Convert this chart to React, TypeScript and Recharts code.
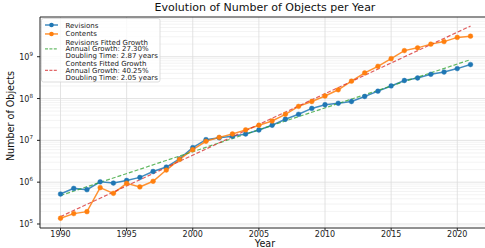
import React from 'react';
import { LineChart, Line, XAxis, YAxis, ReferenceLine } from 'recharts';

const years = [1990, 1991, 1992, 1993, 1994, 1995, 1996, 1997, 1998, 1999, 2000, 2001, 2002, 2003, 2004, 2005,
  2006, 2007, 2008, 2009, 2010, 2011, 2012, 2013, 2014, 2015, 2016, 2017, 2018, 2019, 2020, 2021];

const revisions = [5.2e5, 7.1e5, 6.6e5, 1.02e6, 9.5e5, 1.1e6, 1.3e6, 1.8e6, 2.3e6, 3.6e6, 6.7e6, 1.04e7, 1.15e7, 1.26e7, 1.42e7, 1.77e7,
  2.3e7, 3.2e7, 4.2e7, 5.8e7, 7.1e7, 7.7e7, 8.5e7, 1.12e8, 1.5e8, 2.0e8, 2.7e8, 3.1e8, 3.8e8, 4.3e8, 5.2e8, 6.5e8];

const contents = [1.37e5, 1.77e5, 1.97e5, 7.4e5, 5.4e5, 9.4e5, 7.7e5, 1.05e6, 1.95e6, 3.5e6, 6.0e6, 9.5e6, 1.18e7, 1.42e7, 1.78e7, 2.3e7,
  2.9e7, 4.2e7, 6.5e7, 8.5e7, 1.15e8, 1.62e8, 2.6e8, 4.1e8, 5.9e8, 9.0e8, 1.4e9, 1.63e9, 2.0e9, 2.3e9, 2.9e9, 3.1e9];

// fitted exponential growth, end points only (straight on log axis)
const fitYears = [1990, 2021];
const revisionsFit = [4.8e5, 8.5e8];
const contentsFit = [1.5e5, 5.4e9];

const xTicks = [1990, 1995, 2000, 2005, 2010, 2015, 2020];
const yTicks = [1e5, 1e6, 1e7, 1e8, 1e9];
const minorTicks = [9e4,
  2e5, 3e5, 4e5, 5e5, 6e5, 7e5, 8e5, 9e5,
  2e6, 3e6, 4e6, 5e6, 6e6, 7e6, 8e6, 9e6,
  2e7, 3e7, 4e7, 5e7, 6e7, 7e7, 8e7, 9e7,
  2e8, 3e8, 4e8, 5e8, 6e8, 7e8, 8e8, 9e8,
  2e9, 3e9, 4e9, 5e9, 6e9, 7e9, 8e9];

const legendItems = [
  { lines: ['Revisions'], color: '#1f77b4', dashed: false },
  { lines: ['Contents'], color: '#ff7f0e', dashed: false },
  { lines: ['Revisions Fitted Growth', 'Annual Growth: 27.30%', 'Doubling Time: 2.87 years'], color: '#2ca02c', dashed: true },
  { lines: ['Contents Fitted Growth', 'Annual Growth: 40.25%', 'Doubling Time: 2.05 years'], color: '#d62728', dashed: true },
];

const data = years.map((y, i) => ({ year: y, revisions: revisions[i], contents: contents[i] }));
const fitData = fitYears.map((y, i) => ({ year: y, revFit: revisionsFit[i], conFit: contentsFit[i] }));

const FONT = '"DejaVu Sans", sans-serif';
const Y_MIN = Math.pow(10, 4.904);
const Y_MAX = Math.pow(10, 9.95);

const YTick = (props: any) => {
  const { x, y, payload } = props;
  const exp = Math.round(Math.log10(payload.value));
  return (
    <text x={x} y={y + 3} textAnchor="end" fill="#222" fontFamily={FONT}>
      <tspan fontSize={8}>10</tspan>
      <tspan fontSize={5.6} dy={-4}>{exp}</tspan>
    </text>
  );
};

// legend drawn as an overlay svg, rows laid out top to bottom
const LegendBox = () => {
  const LINE = 6.65;
  const rows: { y: number; item: typeof legendItems[number] }[] = [];
  let y = 25;
  legendItems.forEach((it, i) => {
    rows.push({ y, item: it });
    y += it.lines.length * LINE + (i === 0 ? 2.3 : 1.6);
  });
  return (
    <svg width={485} height={248} style={{ position: 'absolute', left: 0, top: 0, pointerEvents: 'none' }}>
      <rect x={41.5} y={18.5} width={118.5} height={63.5} rx={2} fill="#fff" fillOpacity={0.8} stroke="#d4d4d4" strokeWidth={0.8} />
      {rows.map(({ y: ry, item }, i) => {
        const mid = ry + ((item.lines.length - 1) * LINE) / 2;
        return (
          <g key={i}>
            <line x1={45} x2={58} y1={mid} y2={mid} stroke={item.color} strokeWidth={1.4}
              strokeDasharray={item.dashed ? '3 1.4' : undefined} strokeOpacity={item.dashed ? 0.7 : 0.9} />
            {!item.dashed && <circle cx={51.5} cy={mid} r={2.3} fill={item.color} />}
            <text x={65.5} y={ry + 2.5} fontFamily={FONT} fontSize={7} fill="#222">
              {item.lines.map((l, j) => (
                <tspan key={j} x={65.5} dy={j === 0 ? 0 : LINE}>{l}</tspan>
              ))}
            </text>
          </g>
        );
      })}
    </svg>
  );
};

export default function App() {
  return (
    <div style={{ position: 'absolute', left: 0, top: 0, width: 485, height: 248, overflow: 'hidden', background: '#fff' }}>
      <div style={{ position: 'absolute', left: 0, width: 530, top: 1, textAlign: 'center', fontFamily: FONT, fontSize: 11, color: '#111' }}>
        Evolution of Number of Objects per Year
      </div>
      <div style={{ position: 'absolute', left: 0, width: 530, top: 238.5, textAlign: 'center', fontFamily: FONT, fontSize: 9.6, lineHeight: '10px', color: '#111' }}>
        Year
      </div>
      <div style={{
        position: 'absolute', left: 10, top: 116, transform: 'translate(-50%, -50%) rotate(-90deg)', whiteSpace: 'nowrap',
        fontFamily: FONT, fontSize: 9.6, color: '#111',
      }}>
        Number of Objects
      </div>
      <LineChart width={500} height={248} data={data} margin={{ top: 17, right: 9, bottom: 0, left: 0 }}
        style={{ position: 'absolute', left: 0, top: 0 }}>
        <XAxis dataKey="year" type="number" domain={[1988.45, 2022.55]} ticks={xTicks} allowDataOverflow
          height={20} tickSize={3} tickMargin={0} stroke="#222"
          tick={{ fontSize: 8, fill: '#222', fontFamily: FONT }} />
        <YAxis scale="log" domain={[Y_MIN, Y_MAX]} ticks={yTicks} allowDataOverflow width={40}
          tickSize={3} tickMargin={4} stroke="#222" tick={<YTick />} />
        {minorTicks.map(v => (
          <ReferenceLine key={`m${v}`} y={v} stroke="#ebebeb" strokeWidth={0.6} />
        ))}
        {yTicks.map(v => (
          <ReferenceLine key={`y${v}`} y={v} stroke="#dcdcdc" strokeWidth={0.8} />
        ))}
        {xTicks.map(v => (
          <ReferenceLine key={`x${v}`} x={v} stroke="#dcdcdc" strokeWidth={0.8} />
        ))}
        <ReferenceLine y={Y_MAX} stroke="#222" strokeWidth={1} />
        <Line dataKey="revisions" stroke="#1f77b4" strokeWidth={1.5} strokeOpacity={0.85}
          dot={{ r: 2.4, fill: '#1f77b4', stroke: '#1f77b4', strokeWidth: 0.5 }} isAnimationActive={false} />
        <Line dataKey="contents" stroke="#ff7f0e" strokeWidth={1.5} strokeOpacity={0.85}
          dot={{ r: 2.4, fill: '#ff7f0e', stroke: '#ff7f0e', strokeWidth: 0.5 }} isAnimationActive={false} />
        <Line data={fitData} dataKey="revFit" stroke="#2ca02c" strokeWidth={1.2} strokeOpacity={0.75}
          strokeDasharray="4 2" dot={false} isAnimationActive={false} />
        <Line data={fitData} dataKey="conFit" stroke="#d62728" strokeWidth={1.2} strokeOpacity={0.75}
          strokeDasharray="4 2" dot={false} isAnimationActive={false} />
      </LineChart>
      <LegendBox />
    </div>
  );
}
